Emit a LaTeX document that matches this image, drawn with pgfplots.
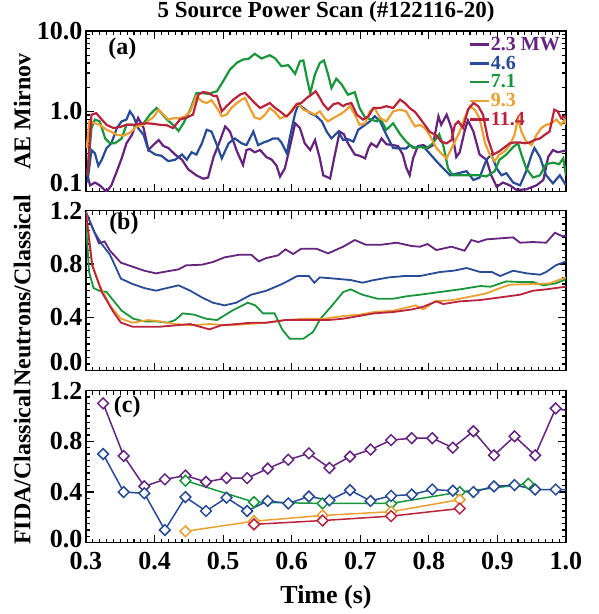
\documentclass[border=0pt]{standalone}
\usepackage{pgfplots}
\pgfplotsset{compat=1.18}
\usepackage{fontspec}
\setmainfont{Liberation Serif}
\definecolor{cpur}{RGB}{100,35,125}
\definecolor{cblu}{RGB}{40,75,150}
\definecolor{cgrn}{RGB}{25,150,60}
\definecolor{cora}{RGB}{235,160,50}
\definecolor{cred}{RGB}{185,35,60}
\tikzset{plabel/.style={font=\fontsize{24}{24}\selectfont\bfseries}}
\begin{document}
\begin{tikzpicture}
\path[use as bounding box] (0pt,0pt) rectangle (598pt,-614pt);
\pgfplotsset{
  panel/.style={
    scale only axis, width=480pt, anchor=north west,
    xmin=0.3, xmax=1.0,
    xtick={0.3,0.4,0.5,0.6,0.7,0.8,0.9,1.0},
    minor x tick num=9,
    tick align=inside,
    major tick length=8pt, minor tick length=4pt,
    axis line style={line width=1.5pt},
    tick style={line width=1.1pt, black},
    tick label style={font=\fontsize{26}{26}\selectfont\bfseries},
    /pgf/number format/assume math mode=true,
    xticklabel style={/pgf/number format/fixed, /pgf/number format/fixed zerofill, /pgf/number format/precision=1},
    ylabel style={font=\fontsize{24}{24}\selectfont\bfseries, at={(axis description cs:-0.133,0.5)}, anchor=center},
  },
  linpanel/.style={
    ytick={0,0.4,0.8,1.2}, minor y tick num=7,
  },
}
% ---------------- Panel (a)
\begin{axis}[panel, at={(86pt,-31pt)}, height=160.7pt,
  ymode=log, ymin=0.1, ymax=10, ytick={0.1,1,10}, yticklabels={\smash{0.1},1.0,10.0},
  xticklabels={},
  ylabel={AE Mirnov},
  title={5 Source Power Scan (\#122116-20)},
  title style={font=\fontsize{23}{23}\selectfont\bfseries, at={(0.5,1)}, anchor=base, yshift=8pt, inner sep=0pt},
  legend style={at={(1,1)}, anchor=north east, xshift=-2pt, yshift=-3pt, draw=none, fill=none,
    font=\fontsize{20}{20}\selectfont\bfseries, row sep=2pt, nodes={inner sep=1pt}},
  legend cell align=left,
  legend image code/.code={\draw[#1, line width=2.5pt] (0pt,0pt) -- (19pt,0pt);},
  every axis plot/.append style={line width=2.2pt},
]
\addplot[cpur] coordinates {(0.302,0.16)(0.306,0.12)(0.313,0.13)(0.320,0.12)(0.330,0.10)(0.337,0.12)(0.345,0.18)(0.352,0.26)(0.359,0.40)(0.367,0.51)(0.376,0.83)(0.384,0.62)(0.391,0.33)(0.398,0.38)(0.406,0.44)(0.413,0.37)(0.420,0.35)(0.430,0.29)(0.440,0.25)(0.449,0.19)(0.461,0.16)(0.471,0.145)(0.478,0.15)(0.486,0.27)(0.493,0.38)(0.503,0.65)(0.510,0.56)(0.520,0.32)(0.529,0.215)(0.534,0.33)(0.539,0.34)(0.546,0.31)(0.554,0.33)(0.563,0.27)(0.571,0.25)(0.578,0.21)(0.583,0.154)(0.590,0.195)(0.597,0.35)(0.605,0.71)(0.612,0.62)(0.619,0.40)(0.627,0.33)(0.634,0.44)(0.641,0.26)(0.646,0.16)(0.656,0.146)(0.663,0.29)(0.670,0.56)(0.676,0.52)(0.682,0.40)(0.692,0.29)(0.699,0.28)(0.707,0.26)(0.712,0.35)(0.716,0.40)(0.724,0.36)(0.731,0.46)(0.738,0.39)(0.748,0.38)(0.755,0.37)(0.762,0.29)(0.767,0.20)(0.772,0.16)(0.777,0.26)(0.784,0.37)(0.792,0.38)(0.799,0.35)(0.806,0.38)(0.814,0.87)(0.818,0.68)(0.826,0.91)(0.833,0.62)(0.840,0.27)(0.845,0.31)(0.852,0.56)(0.857,0.77)(0.865,0.56)(0.874,0.29)(0.884,0.25)(0.891,0.16)(0.899,0.115)(0.908,0.13)(0.918,0.12)(0.928,0.105)(0.942,0.107)(0.957,0.12)(0.967,0.14)(0.974,0.27)(0.981,0.33)(0.988,0.31)(0.996,0.32)(1.0,0.33)};
\addlegendentry{\textcolor{cpur}{2.3 MW}}
\addplot[cblu] coordinates {(0.302,0.13)(0.308,0.33)(0.313,0.30)(0.318,0.21)(0.323,0.25)(0.330,0.35)(0.337,0.40)(0.345,0.62)(0.352,0.75)(0.359,0.79)(0.364,1.0)(0.369,0.87)(0.376,0.62)(0.384,0.51)(0.391,0.33)(0.401,0.29)(0.410,0.28)(0.420,0.24)(0.430,0.25)(0.440,0.29)(0.447,0.25)(0.454,0.31)(0.461,0.29)(0.469,0.40)(0.476,0.59)(0.483,0.56)(0.491,0.38)(0.498,0.26)(0.508,0.40)(0.517,0.46)(0.527,0.40)(0.534,0.38)(0.539,0.46)(0.544,0.56)(0.551,0.38)(0.559,0.41)(0.566,0.43)(0.573,0.46)(0.580,0.46)(0.585,0.41)(0.593,0.30)(0.597,0.46)(0.605,0.95)(0.610,1.23)(0.617,1.10)(0.627,0.95)(0.636,0.87)(0.644,0.75)(0.651,0.56)(0.658,0.46)(0.668,0.56)(0.675,0.44)(0.682,0.45)(0.690,0.42)(0.697,0.59)(0.704,0.65)(0.714,0.75)(0.721,0.87)(0.729,0.75)(0.738,0.51)(0.748,0.35)(0.758,0.345)(0.767,0.345)(0.772,0.38)(0.780,0.35)(0.787,0.37)(0.794,0.35)(0.801,0.30)(0.811,0.24)(0.821,0.195)(0.831,0.16)(0.843,0.17)(0.855,0.18)(0.865,0.14)(0.874,0.15)(0.884,0.25)(0.891,0.29)(0.899,0.195)(0.906,0.16)(0.913,0.17)(0.923,0.13)(0.933,0.12)(0.942,0.18)(0.950,0.29)(0.954,0.35)(0.962,0.27)(0.971,0.16)(0.981,0.127)(0.991,0.16)(1.0,0.12)};
\addlegendentry{\textcolor{cblu}{4.6}}
\addplot[cgrn] coordinates {(0.302,0.16)(0.308,0.62)(0.313,0.79)(0.320,0.75)(0.328,0.46)(0.335,0.40)(0.342,0.40)(0.352,0.46)(0.359,0.68)(0.367,0.68)(0.374,0.65)(0.384,0.71)(0.393,0.91)(0.403,1.10)(0.410,0.95)(0.418,0.79)(0.427,0.68)(0.435,0.57)(0.442,0.71)(0.452,1.05)(0.461,1.69)(0.469,1.69)(0.478,1.65)(0.491,1.78)(0.500,2.37)(0.510,3.32)(0.520,4.02)(0.529,4.42)(0.537,4.5)(0.546,5.2)(0.556,4.55)(0.568,5.0)(0.576,4.55)(0.585,3.65)(0.595,3.76)(0.605,2.93)(0.612,4.2)(0.617,4.3)(0.622,2.61)(0.627,1.69)(0.634,2.9)(0.641,4.0)(0.647,4.3)(0.653,2.9)(0.658,1.95)(0.665,2.55)(0.673,2.15)(0.682,1.61)(0.692,1.73)(0.699,1.1)(0.707,0.84)(0.716,0.79)(0.724,0.75)(0.729,0.82)(0.738,0.59)(0.748,0.71)(0.758,0.52)(0.767,0.42)(0.777,0.35)(0.787,0.36)(0.797,0.35)(0.806,0.40)(0.815,0.52)(0.821,0.38)(0.828,0.195)(0.835,0.16)(0.855,0.16)(0.874,0.16)(0.884,0.155)(0.896,0.18)(0.903,0.25)(0.913,0.29)(0.923,0.36)(0.930,0.40)(0.935,0.29)(0.942,0.195)(0.952,0.15)(0.962,0.16)(0.971,0.22)(0.981,0.23)(0.990,0.22)(0.996,0.26)(1.0,0.16)};
\addlegendentry{\textcolor{cgrn}{7.1}}
\addplot[cora] coordinates {(0.301,0.35)(0.305,0.75)(0.313,0.71)(0.320,0.68)(0.330,0.59)(0.340,0.54)(0.345,0.51)(0.355,0.50)(0.364,0.54)(0.374,0.65)(0.384,0.68)(0.393,0.79)(0.398,0.84)(0.406,1.05)(0.413,0.91)(0.420,0.79)(0.427,0.82)(0.435,0.82)(0.444,0.86)(0.452,1.0)(0.461,1.55)(0.469,1.33)(0.476,1.27)(0.483,1.38)(0.491,1.1)(0.498,0.87)(0.505,0.91)(0.512,1.1)(0.520,1.27)(0.527,1.4)(0.532,1.47)(0.539,1.1)(0.546,0.84)(0.554,0.80)(0.561,0.91)(0.568,1.1)(0.576,0.97)(0.583,0.82)(0.593,0.87)(0.602,1.1)(0.610,1.23)(0.617,1.05)(0.627,0.97)(0.634,0.91)(0.641,1.0)(0.648,0.82)(0.653,0.75)(0.660,0.82)(0.670,0.91)(0.677,1.0)(0.685,1.16)(0.692,0.91)(0.699,0.68)(0.707,0.71)(0.714,1.0)(0.721,1.1)(0.729,0.82)(0.738,0.75)(0.748,1.0)(0.758,1.05)(0.767,1.0)(0.775,0.75)(0.780,0.65)(0.787,0.68)(0.794,0.62)(0.801,0.51)(0.811,0.35)(0.818,0.30)(0.826,0.26)(0.831,0.32)(0.838,0.42)(0.845,0.56)(0.852,0.82)(0.860,1.16)(0.867,1.05)(0.874,0.82)(0.882,0.40)(0.889,0.29)(0.896,0.24)(0.903,0.29)(0.911,0.32)(0.918,0.38)(0.925,0.51)(0.930,0.82)(0.935,0.56)(0.942,0.42)(0.950,0.38)(0.957,0.51)(0.964,0.62)(0.971,0.68)(0.979,0.71)(0.986,0.79)(0.993,0.68)(0.998,0.79)(1.0,0.68)};
\addlegendentry{\textcolor{cora}{9.3}}
\addplot[cred] coordinates {(0.302,0.16)(0.308,0.91)(0.315,0.95)(0.323,0.79)(0.330,0.68)(0.340,0.62)(0.350,0.64)(0.359,0.68)(0.369,0.68)(0.379,0.70)(0.389,0.71)(0.398,0.70)(0.408,0.68)(0.418,0.67)(0.427,0.62)(0.437,0.79)(0.447,0.84)(0.456,0.91)(0.464,1.62)(0.471,1.74)(0.478,1.70)(0.486,1.55)(0.491,1.55)(0.498,1.0)(0.505,1.16)(0.515,1.4)(0.525,1.62)(0.532,1.70)(0.539,1.47)(0.546,1.27)(0.554,1.10)(0.561,1.18)(0.568,1.27)(0.576,1.10)(0.583,1.0)(0.590,0.89)(0.593,0.87)(0.600,1.0)(0.607,1.23)(0.614,1.27)(0.622,1.47)(0.629,1.62)(0.635,1.78)(0.641,1.47)(0.646,1.23)(0.653,1.05)(0.661,1.23)(0.668,1.27)(0.675,1.16)(0.680,1.23)(0.687,1.27)(0.695,0.91)(0.704,0.79)(0.712,0.87)(0.719,1.10)(0.729,1.10)(0.738,1.16)(0.748,1.10)(0.758,1.40)(0.765,1.27)(0.772,1.10)(0.780,0.98)(0.787,0.82)(0.794,0.68)(0.801,0.56)(0.811,0.50)(0.818,0.42)(0.826,0.40)(0.833,0.44)(0.838,0.68)(0.843,0.75)(0.850,0.62)(0.857,1.05)(0.865,1.27)(0.872,1.16)(0.879,0.91)(0.886,0.46)(0.894,0.29)(0.903,0.32)(0.911,0.36)(0.918,0.40)(0.925,0.41)(0.933,0.41)(0.940,0.40)(0.947,0.41)(0.954,0.44)(0.962,0.46)(0.969,0.51)(0.976,0.56)(0.983,1.05)(0.988,1.0)(0.993,0.82)(0.998,0.87)(1.0,0.82)};
\addlegendentry{\textcolor{cred}{11.4}}
\node[plabel] at (rel axis cs:0.076,0.887) {(a)};
\end{axis}
% ---------------- Panel (b)
\begin{axis}[panel, linpanel, at={(86pt,-210.7pt)}, height=160pt,
  ymin=0, ymax=1.2, yticklabels={\smash{0.0},0.4,0.8,1.2},
  xticklabels={},
  ylabel={Neutrons/Classical},
  every axis plot/.append style={line width=1.8pt},
]
\addplot[cpur] coordinates {(0.300,1.19)(0.319,0.955)(0.327,0.97)(0.335,0.90)(0.351,0.81)(0.368,0.78)(0.385,0.75)(0.402,0.73)(0.418,0.745)(0.435,0.76)(0.446,0.79)(0.469,0.795)(0.485,0.815)(0.502,0.85)(0.524,0.87)(0.541,0.87)(0.552,0.82)(0.563,0.845)(0.580,0.865)(0.591,0.91)(0.602,0.875)(0.614,0.915)(0.636,0.915)(0.653,0.88)(0.675,0.93)(0.692,0.98)(0.708,0.945)(0.731,0.945)(0.753,0.96)(0.775,0.935)(0.787,0.93)(0.798,0.95)(0.811,0.905)(0.833,0.93)(0.852,0.90)(0.862,0.98)(0.872,0.965)(0.884,0.985)(0.923,1.0)(0.933,0.96)(0.952,0.965)(0.971,0.96)(0.984,1.035)(0.994,1.01)(1.000,1.01)};
\addplot[cblu] coordinates {(0.300,1.19)(0.312,1.04)(0.323,0.95)(0.335,0.87)(0.351,0.69)(0.368,0.65)(0.385,0.62)(0.402,0.60)(0.418,0.62)(0.435,0.64)(0.452,0.60)(0.469,0.55)(0.485,0.51)(0.502,0.49)(0.519,0.51)(0.541,0.57)(0.563,0.60)(0.586,0.65)(0.608,0.71)(0.625,0.71)(0.633,0.66)(0.641,0.70)(0.664,0.69)(0.686,0.68)(0.703,0.66)(0.720,0.68)(0.742,0.70)(0.764,0.71)(0.787,0.71)(0.816,0.74)(0.836,0.75)(0.855,0.77)(0.875,0.74)(0.892,0.74)(0.904,0.71)(0.923,0.75)(0.943,0.73)(0.962,0.72)(0.971,0.74)(0.985,0.79)(1.000,0.82)};
\addplot[cgrn] coordinates {(0.300,1.10)(0.3045,0.74)(0.311,0.62)(0.319,0.60)(0.330,0.59)(0.341,0.52)(0.352,0.45)(0.369,0.39)(0.385,0.37)(0.402,0.37)(0.419,0.36)(0.430,0.38)(0.441,0.43)(0.458,0.42)(0.475,0.39)(0.491,0.38)(0.513,0.45)(0.536,0.51)(0.547,0.49)(0.558,0.43)(0.575,0.43)(0.586,0.31)(0.597,0.24)(0.617,0.24)(0.631,0.29)(0.642,0.39)(0.659,0.49)(0.675,0.59)(0.686,0.61)(0.703,0.57)(0.725,0.54)(0.748,0.54)(0.770,0.56)(0.787,0.57)(0.816,0.59)(0.845,0.61)(0.875,0.635)(0.890,0.63)(0.913,0.67)(0.933,0.665)(0.952,0.665)(0.967,0.64)(0.985,0.655)(1.000,0.685)};
\addplot[cora] coordinates {(0.300,1.19)(0.309,0.80)(0.320,0.64)(0.335,0.49)(0.351,0.39)(0.368,0.36)(0.391,0.38)(0.408,0.37)(0.430,0.35)(0.452,0.34)(0.480,0.35)(0.508,0.34)(0.536,0.35)(0.563,0.36)(0.591,0.38)(0.619,0.39)(0.647,0.39)(0.675,0.41)(0.698,0.42)(0.720,0.44)(0.748,0.45)(0.765,0.47)(0.781,0.49)(0.792,0.46)(0.809,0.52)(0.835,0.53)(0.855,0.55)(0.884,0.58)(0.904,0.62)(0.918,0.645)(0.952,0.65)(0.976,0.655)(1.000,0.70)};
\addplot[cred] coordinates {(0.300,1.18)(0.309,0.79)(0.323,0.59)(0.340,0.44)(0.351,0.36)(0.368,0.33)(0.385,0.33)(0.408,0.33)(0.430,0.34)(0.452,0.35)(0.480,0.31)(0.497,0.34)(0.519,0.35)(0.541,0.36)(0.563,0.36)(0.591,0.38)(0.619,0.38)(0.653,0.38)(0.675,0.39)(0.698,0.41)(0.720,0.43)(0.748,0.44)(0.776,0.46)(0.792,0.48)(0.811,0.52)(0.821,0.50)(0.845,0.52)(0.875,0.53)(0.904,0.55)(0.933,0.57)(0.952,0.60)(0.971,0.61)(0.985,0.62)(1.000,0.63)};
\node[plabel] at (rel axis cs:0.079,0.917) {(b)};
\end{axis}
% ---------------- Panel (c)
\begin{axis}[panel, linpanel, at={(86pt,-390.7pt)}, height=152pt,
  ymin=0, ymax=1.2, yticklabels={\smash{\raisebox{-5pt}{0.0}},0.4,0.8,1.2},
  xlabel={Time (s)},
  xticklabel style={yshift=-6pt},
  xlabel style={font=\fontsize{26}{26}\selectfont\bfseries, at={(axis description cs:0.5,0)}, anchor=base, yshift=-61pt, inner sep=0pt},
  ylabel={FIDA/Classical},
  every axis plot/.append style={line width=1.5pt, mark=square*, mark size=3.8pt, mark options={rotate=45, fill=white, line width=1.5pt}},
]
\addplot[cpur, mark indices={1,2,3,4,5,6,7,8,9,10,11,12,13,14,15,16,17,18,19,20,21,22,23}] coordinates {(0.325,1.10)(0.355,0.685)(0.385,0.445)(0.415,0.50)(0.445,0.53)(0.475,0.48)(0.505,0.51)(0.535,0.51)(0.565,0.585)(0.595,0.655)(0.625,0.705)(0.655,0.59)(0.685,0.68)(0.715,0.735)(0.745,0.81)(0.775,0.825)(0.805,0.825)(0.835,0.75)(0.865,0.88)(0.895,0.69)(0.925,0.84)(0.955,0.69)(0.985,1.06)(1.0,1.045)};
\addplot[cgrn] coordinates {(0.445,0.49)(0.545,0.32)(0.645,0.31)(0.745,0.31)(0.845,0.40)(0.945,0.465)};
\addplot[cora] coordinates {(0.445,0.09)(0.545,0.17)(0.645,0.215)(0.745,0.245)(0.845,0.34)};
\addplot[cred] coordinates {(0.545,0.145)(0.645,0.175)(0.745,0.21)(0.845,0.27)};
\addplot[cblu, mark indices={1,2,3,4,5,6,7,8,9,10,11,12,13,14,15,16,17,18,19,20,21,22,23}] coordinates {(0.325,0.70)(0.355,0.40)(0.385,0.39)(0.415,0.10)(0.445,0.36)(0.475,0.25)(0.505,0.355)(0.535,0.25)(0.565,0.33)(0.595,0.31)(0.625,0.365)(0.655,0.335)(0.685,0.415)(0.715,0.33)(0.745,0.37)(0.775,0.38)(0.805,0.42)(0.835,0.41)(0.865,0.40)(0.895,0.445)(0.925,0.455)(0.955,0.42)(0.985,0.42)(1.0,0.42)};
\node[plabel] at (rel axis cs:0.086,0.895) {(c)};
\end{axis}
\end{tikzpicture}
\end{document}
